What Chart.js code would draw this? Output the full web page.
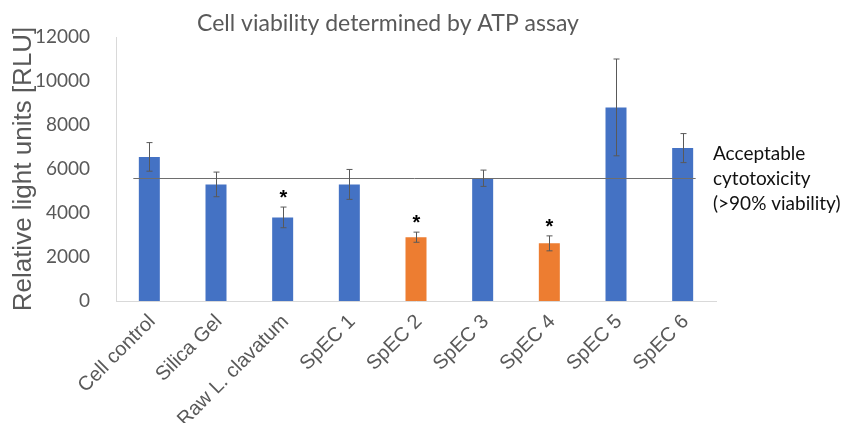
<!DOCTYPE html>
<html>
<head>
<meta charset="utf-8">
<script src="https://cdn.jsdelivr.net/npm/chart.js@4.4.1/dist/chart.umd.min.js"></script>
<style>
  html, body { margin: 0; padding: 0; background: #ffffff; }
</style>
</head>
<body>
<canvas id="atpChart" width="845" height="423"></canvas>
<script>
// Chart data
var categories = ["Cell control", "Silica Gel", "Raw L. clavatum", "SpEC 1", "SpEC 2", "SpEC 3", "SpEC 4", "SpEC 5", "SpEC 6"];
var viability = [6550, 5300, 3800, 5300, 2900, 5580, 2620, 8800, 6950];
var errors = [650, 560, 470, 680, 230, 370, 340, 2200, 660];
var significant = [false, false, true, false, true, false, true, false, false];
var cytotoxic = [false, false, false, false, true, false, true, false, false];
var yTicks = [0, 2000, 4000, 6000, 8000, 10000, 12000];
var threshold = 5590;
var thresholdLabel = ["Acceptable", "cytotoxicity", "(>90% viability)"];
var chartTitle = "Cell viability determined by ATP assay";

// Colours
var blue = "#4472c4";
var orange = "#ed7d31";
var greyText = "#595959";

var barColors = cytotoxic.map(function (c) { return c ? orange : blue; });

// Title, error bars, asterisks and the threshold line
var extrasPlugin = {
  id: "extras",
  afterDatasetsDraw: function (chart) {
    var ctx = chart.ctx;
    var y = chart.scales.y;
    var meta = chart.getDatasetMeta(0);
    ctx.save();

    // title (centred over the bars, not the whole canvas)
    ctx.fillStyle = greyText;
    ctx.font = "23px Lato, sans-serif";
    ctx.textAlign = "center";
    ctx.textBaseline = "alphabetic";
    ctx.fillText(chartTitle, 388, 31);

    // threshold line
    var ty = Math.round(y.getPixelForValue(threshold)) + 0.5;
    var x0 = meta.data[0].x - 16;
    var x1 = meta.data[meta.data.length - 1].x + 13;
    ctx.strokeStyle = "#6e6e6e";
    ctx.lineWidth = 1;
    ctx.beginPath();
    ctx.moveTo(x0, ty);
    ctx.lineTo(x1, ty);
    ctx.stroke();

    // error bars
    ctx.strokeStyle = "#595959";
    for (var i = 0; i < viability.length; i++) {
      var x = Math.round(meta.data[i].x) + 0.5;
      var top = y.getPixelForValue(viability[i] + errors[i]);
      var bot = y.getPixelForValue(viability[i] - errors[i]);
      ctx.beginPath();
      ctx.moveTo(x, top);
      ctx.lineTo(x, bot);
      ctx.moveTo(x - 3, top);
      ctx.lineTo(x + 3, top);
      ctx.moveTo(x - 3, bot);
      ctx.lineTo(x + 3, bot);
      ctx.stroke();

      // significance mark
      if (significant[i]) {
        ctx.fillStyle = "#000000";
        ctx.font = "bold 20px 'Liberation Sans', Arial, sans-serif";
        ctx.textAlign = "center";
        ctx.textBaseline = "alphabetic";
        ctx.fillText("*", x, top - 3);
      }
    }

    // threshold annotation
    ctx.fillStyle = "#111111";
    ctx.font = "19px Lato, sans-serif";
    ctx.textAlign = "left";
    ctx.textBaseline = "middle";
    for (var j = 0; j < thresholdLabel.length; j++) {
      ctx.fillText(thresholdLabel[j], chart.chartArea.right - 3, ty + (j - 1) * 25);
    }
    ctx.restore();
  }
};

var atpChart = new Chart(document.getElementById("atpChart").getContext("2d"), {
  type: "bar",
  data: {
    labels: categories,
    datasets: [{
      label: "Cell viability",
      data: viability,
      backgroundColor: barColors,
      borderWidth: 0,
      categoryPercentage: 0.35,
      barPercentage: 0.9
    }]
  },
  options: {
    responsive: false,
    animation: false,
    devicePixelRatio: 1,
    layout: { padding: { top: 37, right: 129, bottom: 0, left: 0 } },
    plugins: {
      legend: { display: false },
      tooltip: { enabled: false },
      title: { display: false }
    },
    scales: {
      x: {
        grid: { display: false },
        border: { color: "#d9d9d9" },
        ticks: {
          color: greyText,
          font: { family: "'Liberation Sans', Arial, sans-serif", size: 20 },
          minRotation: 45,
          maxRotation: 45,
          padding: 1,
          labelOffset: 3,
          autoSkip: false
        },
        afterFit: function (scale) { scale.height = 122; }
      },
      y: {
        min: 0,
        max: 12000,
        grid: { display: false },
        border: { color: "#d9d9d9" },
        afterBuildTicks: function (scale) {
          scale.ticks = yTicks.map(function (v) { return { value: v }; });
        },
        ticks: {
          color: greyText,
          font: { family: "Lato, sans-serif", size: 19 },
          padding: 18,
          callback: function (value) { return String(value); }
        },
        title: {
          display: true,
          text: "Relative light units [RLU]",
          color: greyText,
          font: { family: "'Liberation Sans', Arial, sans-serif", size: 26 },
          padding: { top: 8, bottom: 0 }
        },
        afterFit: function (scale) { scale.width = 116; }
      }
    }
  },
  plugins: [extrasPlugin]
});
</script>
</body>
</html>
